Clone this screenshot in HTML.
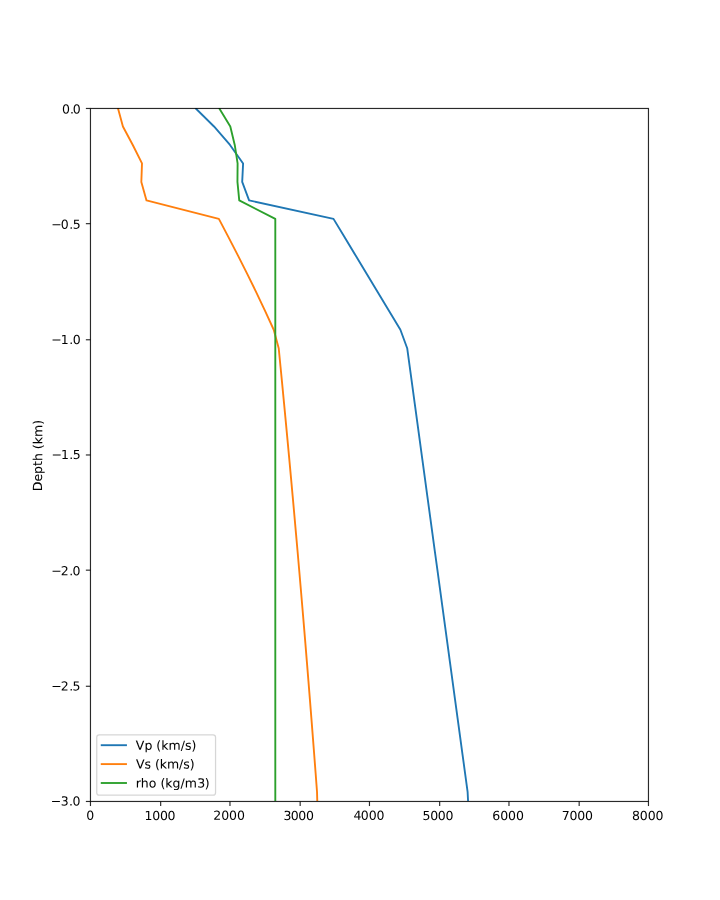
<!DOCTYPE html>
<html lang="en">
<head>
<meta charset="utf-8">
<title>Velocity model</title>
<style>
html,body{margin:0;padding:0;background:#fff;}
body{width:720px;height:900px;overflow:hidden;}
svg{display:block;}
text{font-family:"DejaVu Sans","Liberation Sans",sans-serif;font-size:13.889px;fill:#000;font-kerning:none;white-space:pre;}
.b1{stroke:#000;stroke-width:0.04;}
.b2{stroke:#000;stroke-width:0.07;}
.ln{fill:none;stroke-width:2.0833;stroke-linejoin:round;stroke-linecap:butt;}
.tk{stroke:#000;stroke-opacity:0.835;stroke-width:1.288;}
</style>
</head>
<body>
<svg width="720" height="900" viewBox="0 0 800 1000">
<rect x="0" y="0" width="800" height="1000" fill="#ffffff"/>
<defs><clipPath id="ax"><rect x="100" y="120" width="620" height="770"/></clipPath></defs>

<g class="tk">
<line x1="100.52" y1="890.5" x2="100.52" y2="895.6"/>
<line x1="178.52" y1="890.5" x2="178.52" y2="895.6"/>
<line x1="255.52" y1="890.5" x2="255.52" y2="895.6"/>
<line x1="333.52" y1="890.5" x2="333.52" y2="895.6"/>
<line x1="410.52" y1="890.5" x2="410.52" y2="895.6"/>
<line x1="488.52" y1="890.5" x2="488.52" y2="895.6"/>
<line x1="565.52" y1="890.5" x2="565.52" y2="895.6"/>
<line x1="643.52" y1="890.5" x2="643.52" y2="895.6"/>
<line x1="720.52" y1="890.5" x2="720.52" y2="895.6"/>
<line x1="95.4" y1="120.52" x2="100.5" y2="120.52"/>
<line x1="95.4" y1="248.52" x2="100.5" y2="248.52"/>
<line x1="95.4" y1="377.52" x2="100.5" y2="377.52"/>
<line x1="95.4" y1="505.52" x2="100.5" y2="505.52"/>
<line x1="95.4" y1="633.52" x2="100.5" y2="633.52"/>
<line x1="95.4" y1="762.52" x2="100.5" y2="762.52"/>
<line x1="95.4" y1="890.52" x2="100.5" y2="890.52"/>
</g>
<text transform="rotate(0.03 95.84 910.97)" x="95.84" y="910.97">0</text>
<text transform="rotate(0.03 160.63 910.99)" x="160.63 169.15 177.66 186.17" y="910.99">1000</text>
<text transform="rotate(0.03 237.02 910.96)" x="237.02 245.77 254.52 263.28" y="910.96">2000</text>
<text transform="rotate(0.03 314.92 911.00)" x="314.92 322.98 331.49 340.00" y="911.00">3000</text>
<text transform="rotate(0.03 392.78 910.90)" x="392.78 400.96 409.60 418.23" y="910.90">4000</text>
<text transform="rotate(0.03 469.44 910.99)" x="469.44 477.96 486.49 495.01" y="910.99">5000</text>
<text transform="rotate(0.03 547.00 911.00)" x="547.00 555.75 564.50 573.25" y="911.00">6000</text>
<text transform="rotate(0.03 624.21 910.99)" x="624.21 632.82 641.43 650.04" y="910.99">7000</text>
<text transform="rotate(0.03 702.11 910.99)" x="702.11 710.86 719.60 728.35" y="910.99">8000</text>
<text transform="rotate(0.03 68.81 126.06)" x="68.81 77.64 80.96" y="126.06">0.0</text>
<text transform="rotate(0.03 56.89 254.09)" x="56.89 67.55 76.90 80.75" y="254.09">−0.5</text>
<text transform="rotate(0.03 56.99 382.09)" x="56.99 67.61 76.94 80.75" y="382.09">−1.0</text>
<text transform="rotate(0.03 57.15 509.94)" x="57.15 67.74 77.03 80.80" y="509.94">−1.5</text>
<text transform="rotate(0.03 56.93 639.03)" x="56.93 67.54 76.85 80.64" y="639.03">−2.0</text>
<text transform="rotate(0.03 56.94 767.16)" x="56.94 67.54 76.84 80.63" y="767.16">−2.5</text>
<text transform="rotate(0.03 56.29 895.08)" x="56.29 67.54 76.60 80.59" y="895.08">−3.0</text>
<text class="b2" transform="translate(46.81,505.64) rotate(-89.97)" x="-40.17 -29.47 -20.92 -12.10 -6.65 2.15 6.58 12.00 20.05 33.58" y="0">Depth (km)</text>
<g clip-path="url(#ax)">
<polyline class="ln" stroke="#1f77b4" points="217.06,120.00 237.78,140.53 255.56,161.07 270.11,181.60 269.11,202.13 276.78,222.67 370.56,243.20 382.94,263.73 395.33,284.27 407.72,304.80 420.11,325.33 432.50,345.87 444.89,366.40 452.44,386.93 455.24,407.47 458.04,428.00 460.83,448.53 463.63,469.07 466.43,489.60 469.22,510.13 472.02,530.67 474.81,551.20 477.61,571.73 480.41,592.27 483.20,612.80 486.00,633.33 488.80,653.87 491.59,674.40 494.39,694.93 497.19,715.47 499.98,736.00 502.78,756.53 505.57,777.07 508.37,797.60 511.17,818.13 513.96,838.67 516.76,859.20 519.56,879.73 520.58,900.27"/>
<polyline class="ln" stroke="#ff7f0e" points="131.00,120.00 136.57,140.53 147.54,161.07 157.77,181.60 157.04,202.13 162.77,222.67 243.18,243.20 253.99,263.73 264.60,284.27 274.96,304.80 285.03,325.33 294.77,345.87 304.15,366.40 309.68,386.93 311.69,407.47 313.67,428.00 315.64,448.53 317.59,469.07 319.52,489.60 321.43,510.13 323.31,530.67 325.18,551.20 327.02,571.73 328.84,592.27 330.65,612.80 332.43,633.33 334.19,653.87 335.93,674.40 337.65,694.93 339.35,715.47 341.03,736.00 342.69,756.53 344.33,777.07 345.95,797.60 347.55,818.13 349.13,838.67 350.70,859.20 352.24,879.73 352.80,900.27"/>
<polyline class="ln" stroke="#2ca02c" points="243.39,120.00 255.89,140.53 260.83,161.07 264.00,181.60 263.83,202.13 265.83,222.67 305.89,243.20 305.89,263.73 305.89,284.27 305.89,304.80 305.89,325.33 305.89,345.87 305.89,366.40 305.89,386.93 305.89,407.47 305.89,428.00 305.89,448.53 305.89,469.07 305.89,489.60 305.89,510.13 305.89,530.67 305.89,551.20 305.89,571.73 305.89,592.27 305.89,612.80 305.89,633.33 305.89,653.87 305.89,674.40 305.89,694.93 305.89,715.47 305.89,736.00 305.89,756.53 305.89,777.07 305.89,797.60 305.89,818.13 305.89,838.67 305.89,859.20 305.89,879.73 305.89,900.27"/>
</g>
<rect x="100.52" y="120.52" width="620" height="770" fill="none" stroke="#000" stroke-opacity="0.835" stroke-width="1.288" stroke-linejoin="miter"/>
<rect x="107.5" y="816.5" width="132" height="67" rx="2.78" ry="2.78" fill="#ffffff" fill-opacity="0.8" stroke="#cccccc" stroke-opacity="0.8" stroke-width="1.389"/>
<line x1="113" y1="828" x2="140" y2="828" stroke="#1f77b4" stroke-width="2.0833" stroke-linecap="square"/>
<text class="b1" transform="rotate(0.03 150.94 832.93)" x="150.94 160.46 169.30 173.73 179.17 187.24 200.78 205.48 212.74" y="832.93">Vp (km/s)</text>
<line x1="113" y1="849" x2="140" y2="849" stroke="#ff7f0e" stroke-width="2.0833" stroke-linecap="square"/>
<text class="b1" transform="rotate(0.03 151.12 853.79)" x="151.12 160.57 167.76 172.14 177.51 185.51 198.99 203.62 210.82" y="853.79">Vs (km/s)</text>
<line x1="113" y1="870" x2="140" y2="870" stroke="#2ca02c" stroke-width="2.0833" stroke-linecap="square"/>
<text class="b1" transform="rotate(0.03 150.80 874.88)" x="150.80 156.51 165.31 173.81 178.23 183.65 191.69 200.50 205.18 219.15 227.54" y="874.88">rho (kg/m3)</text>
</svg>
</body>
</html>
